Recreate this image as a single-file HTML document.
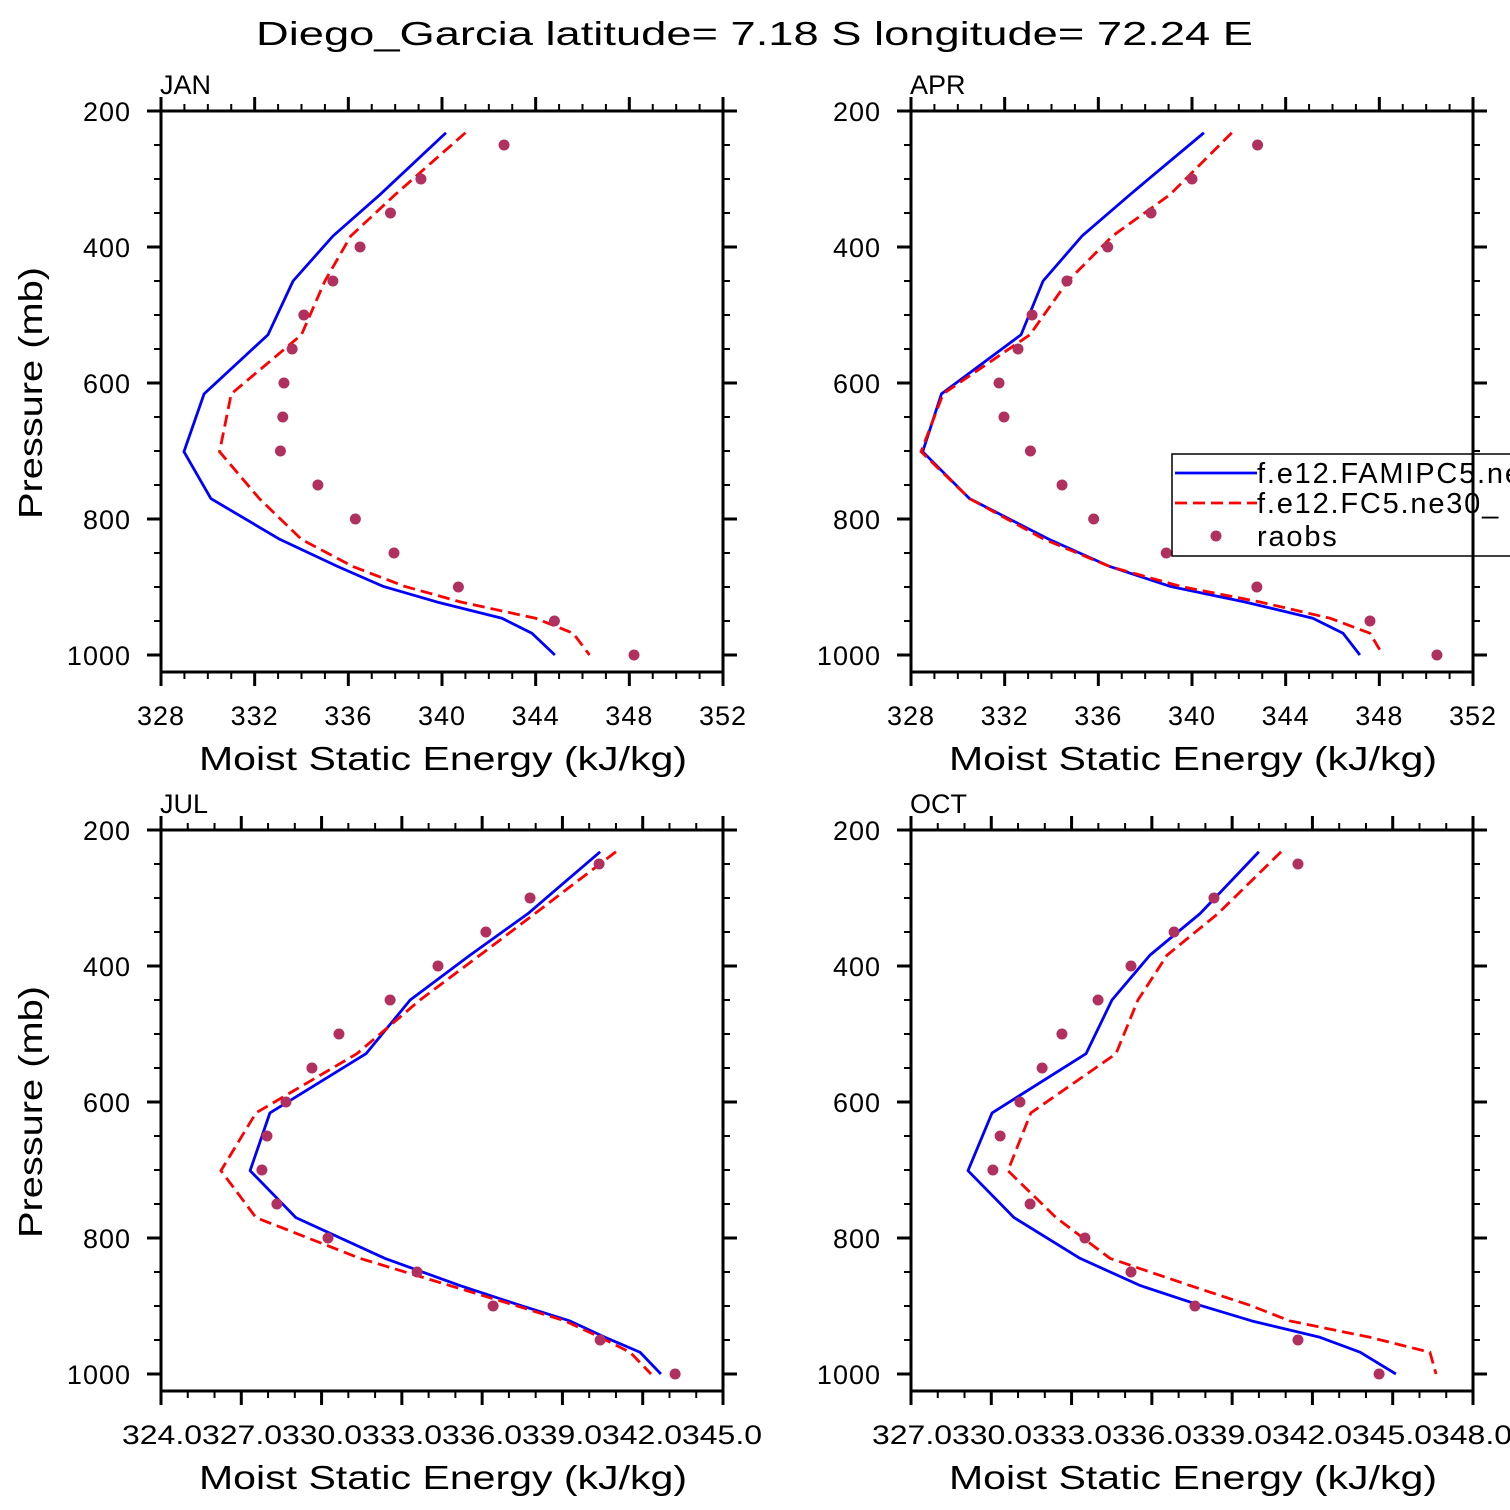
<!DOCTYPE html>
<html><head><meta charset="utf-8"><style>
html,body{margin:0;padding:0;background:#fff}
svg{display:block}
text{font-family:"Liberation Sans","DejaVu Sans",sans-serif;fill:#000}
</style></head><body>
<svg id="fig" width="1510" height="1510" viewBox="0 0 1510 1510" xmlns="http://www.w3.org/2000/svg">
<rect x="0" y="0" width="1510" height="1510" fill="#fff"/>
<text x="256" y="45" font-size="33" textLength="997" lengthAdjust="spacingAndGlyphs">Diego_Garcia  latitude= 7.18 S longitude= 72.24 E</text>
</svg>
<script>
// ---- data ----
const modelLevels = [232,323,384,450,529,616,701,770,830,870,899,922,946,968,1000];
const obsLevels = [250,300,350,400,450,500,550,600,650,700,750,800,850,900,950,1000];
const janFAMIPC5 = [340.17,337.35,335.34,333.64,332.57,329.84,328.98,330.13,333.08,335.56,337.48,339.78,342.56,343.84,344.82];
const janFC5 = [341.0,338.0,336.1,335.0,334.0,331.0,330.5,332.2,334.0,336.2,338.4,340.8,344.0,345.6,346.3];
const janRaobs = [342.65,339.1,337.8,336.5,335.34,334.1,333.6,333.25,333.2,333.1,334.7,336.3,337.95,340.7,344.8,348.2];
const aprFAMIPC5 = [340.51,337.35,335.3,333.64,332.7,329.3,328.5,330.5,333.9,336.5,339.06,342.26,345.16,346.45,347.17];
const aprFC5 = [341.7,339.06,336.6,334.7,333.08,329.37,328.43,330.5,333.7,336.5,339.5,342.9,345.9,347.6,348.15];
const aprRaobs = [342.8,340.0,338.25,336.4,334.66,333.17,332.57,331.76,331.97,333.1,334.45,335.8,338.9,342.77,347.6,350.46];
const julFAMIPC5 = [340.44,337.74,335.58,333.34,331.69,328.1,327.36,329.07,332.4,335.2,337.45,339.31,340.62,341.93,342.71];
const julFC5 = [341.03,338.0,335.95,333.71,331.35,327.58,326.27,327.58,331.47,334.83,337.26,339.13,340.44,341.56,342.34];
const julRaobs = [340.4,337.82,336.17,334.38,332.59,330.68,329.67,328.7,327.99,327.8,328.36,330.27,333.6,336.44,340.44,343.24];
const octFAMIPC5 = [340.03,337.83,335.96,334.54,333.57,330.06,329.16,330.88,333.35,335.6,337.83,339.77,342.31,343.81,345.15];
const octFC5 = [340.86,338.5,336.6,335.51,334.69,331.51,330.65,332.45,334.47,337.46,339.7,341.19,344.18,346.42,346.65];
const octRaobs = [341.49,338.35,336.86,335.25,334.02,332.67,331.93,331.1,330.36,330.09,331.48,333.53,335.25,337.64,341.49,344.52];
const yTicks = [200,400,600,800,1000];
const janXTicks = [328,332,336,340,344,348,352];
const julXTickLabel = "324.0327.0330.0333.0336.0339.0342.0345.0";
const octXTickLabel = "327.0330.0333.0336.0339.0342.0345.0348.0";

const NS = "http://www.w3.org/2000/svg";
const svg = document.getElementById('fig');
function mk(tag, attrs, parent){ const e=document.createElementNS(NS,tag); for(const k in attrs) e.setAttribute(k,attrs[k]); (parent||svg).appendChild(e); return e; }

function panel(cfg){
  const g = mk('g',{});
  
  
  const L=cfg.x0, R=cfg.x0+562, T=cfg.y0, B=cfg.y0+561;
  const xs = v => L + (v-cfg.xmin)/(cfg.xmax-cfg.xmin)*562;
  const ys = p => T + (p-200)/(1025-200)*561;
  const cid='clip-'+cfg.name;
  const cp=mk('clipPath',{id:cid},g); mk('rect',{x:L,y:T,width:562,height:561},cp);
  const tg = mk('g',{stroke:'#000','stroke-width':2},g);
  for(let p=200;p<=1025;p+=50){
    const maj = p%200===0, len = maj?14:7, y=ys(p);
    mk('line',{x1:L-len,y1:y,x2:L,y2:y,'stroke-width':maj?3:2},tg);
    mk('line',{x1:R,y1:y,x2:R+len,y2:y,'stroke-width':maj?3:2},tg);
  }
  for(let v=cfg.xmin, i=0; v<=cfg.xmax+1e-6; v+=cfg.minor, i++){
    const maj = i%cfg.per===0, len=maj?14:7, x=xs(v);
    mk('line',{x1:x,y1:T-len,x2:x,y2:T,'stroke-width':maj?3:2},tg);
    mk('line',{x1:x,y1:B,x2:x,y2:B+len,'stroke-width':maj?3:2},tg);
  }
  mk('rect',{x:L,y:T,width:562,height:561,fill:'none',stroke:'#000','stroke-width':3},g);
  yTicks.forEach(p=>{
    const t=mk('text',{x:L-30,y:ys(p)+10,'font-size':27,'text-anchor':'end','letter-spacing':1},g);
    t.textContent=p;
    
    
  });
  if(cfg.xlabels){
    cfg.xlabels.forEach(v=>{
      const t=mk('text',{x:xs(v),y:B+53,'font-size':27,'text-anchor':'middle','letter-spacing':1},g);
      t.textContent=v;
      
      
    });
  } else {
    const t=mk('text',{x:L-39,y:B+53,'font-size':27,textLength:cfg.labLen,lengthAdjust:'spacingAndGlyphs'},g);
    t.textContent=cfg.xlabelStr;
    
    
  }
  const xt=mk('text',{x:L+38,y:B+98,'font-size':33,textLength:488,lengthAdjust:'spacingAndGlyphs'},g);
  xt.textContent='Moist Static Energy (kJ/kg)';
  
  
  const mt=mk('text',{x:L-1,y:T-17,'font-size':27},g);
  mt.textContent=cfg.label;
  
  
  if(cfg.ylab){
    const yt=mk('text',{x:0,y:0,'font-size':33,textLength:252,lengthAdjust:'spacingAndGlyphs',transform:`translate(42,${T+408}) rotate(-90)`},g);
    yt.textContent='Pressure (mb)';
    
    
  }
  const dg=mk('g',{'clip-path':`url(#${cid})`},g);
  const blue=mk('polyline',{points:modelLevels.map((p,i)=>xs(cfg.b[i])+','+ys(p)).join(' '),fill:'none',stroke:'#0000ff','stroke-width':2.8,'stroke-linejoin':'round'},dg);
  
  
  const red=mk('polyline',{points:modelLevels.map((p,i)=>xs(cfg.r[i])+','+ys(p)).join(' '),fill:'none',stroke:'#ff0000','stroke-width':2.8,'stroke-dasharray':'12,6'},dg);
  
  
  obsLevels.forEach((p,i)=>{
    const c=mk('circle',{cx:xs(cfg.o[i]),cy:ys(p),r:5.5,fill:'#b03060'},g);
    
    
  });
}
panel({name:'jan',label:'JAN',x0:161,y0:111,xmin:328,xmax:352,minor:1,per:4,xlabels:janXTicks,ylab:true,b:janFAMIPC5,r:janFC5,o:janRaobs});
panel({name:'apr',label:'APR',x0:911,y0:111,xmin:328,xmax:352,minor:1,per:4,xlabels:janXTicks,ylab:false,b:aprFAMIPC5,r:aprFC5,o:aprRaobs});
panel({name:'jul',label:'JUL',x0:161,y0:830,xmin:324.03,xmax:345.03,minor:1,per:3,xlabelStr:julXTickLabel,labLen:640,ylab:true,b:julFAMIPC5,r:julFC5,o:julRaobs});
panel({name:'oct',label:'OCT',x0:911,y0:830,xmin:327.03,xmax:348.03,minor:1,per:3,xlabelStr:octXTickLabel,labLen:640,ylab:false,b:octFAMIPC5,r:octFC5,o:octRaobs});

const lg=mk('g',{});


mk('rect',{x:1172,y:454,width:360,height:102,fill:'#fff',stroke:'#000','stroke-width':1.5},lg);
mk('line',{x1:1175,y1:473,x2:1257,y2:473,stroke:'#0000ff','stroke-width':2.8},lg);
mk('line',{x1:1175,y1:503,x2:1257,y2:503,stroke:'#ff0000','stroke-width':2.8,'stroke-dasharray':'12,6'},lg);
mk('circle',{cx:1216,cy:536,r:5.5,fill:'#b03060'},lg);
[['f.e12.FAMIPC5.ne30_',483,'legend-entry-famipc5'],['f.e12.FC5.ne30_',513,'legend-entry-fc5'],['raobs',546,'legend-entry-raobs']].forEach(a=>{
  const t=mk('text',{x:1257,y:a[1],'font-size':29,'letter-spacing':1.8},lg);
  t.textContent=a[0];
  
  
});
mk('line',{x1:1473,y1:454,x2:1473,y2:556,stroke:'#000','stroke-width':3},lg);
</script>
</body></html>
